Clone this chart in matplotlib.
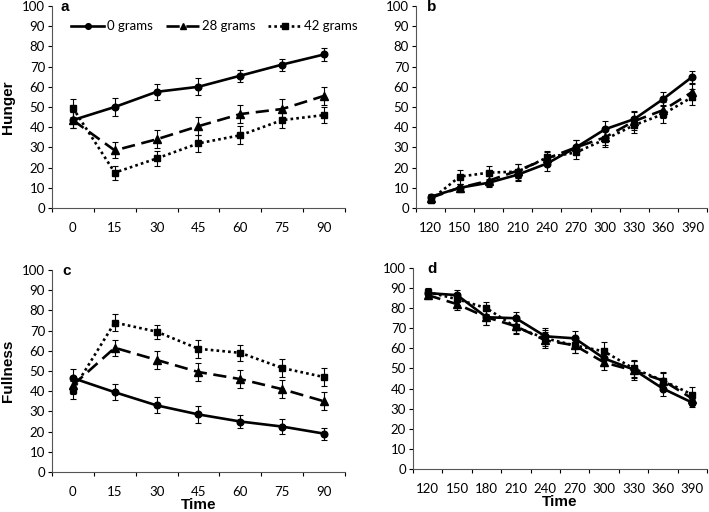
import matplotlib
matplotlib.use("Agg")
import matplotlib.pyplot as plt
import numpy as np
from matplotlib.ticker import FixedLocator

# ---- data ----
times_early = ["0", "15", "30", "45", "60", "75", "90"]
times_late = ["120", "150", "180", "210", "240", "270", "300", "330", "360", "390"]
series_names = ["0 grams", "28 grams", "42 grams"]

hunger_early_0 = [43.5, 50, 57.5, 60, 65.5, 71, 76]
hunger_early_28 = [43.5, 28.5, 34, 40.5, 46.5, 49, 55.5]
hunger_early_42 = [49.5, 17.5, 24.5, 32, 36, 43.5, 46]
hunger_early_err_0 = [4, 4.5, 4, 4.2, 3, 3, 3]
hunger_early_err_28 = [4, 4, 4.5, 4.3, 4.5, 5, 4.5]
hunger_early_err_42 = [4.5, 3.5, 3.5, 4.3, 4.5, 4, 4]

hunger_late_0 = [5.5, 10, 12.5, 16.5, 22, 30, 39, 44, 54, 65]
hunger_late_28 = [5, 10, 13.5, 18.5, 24.5, 30, 35, 43, 48.5, 57.5]
hunger_late_42 = [4, 15.5, 17.5, 18, 25, 27.5, 34, 41, 46.5, 55]
hunger_late_err_0 = [1.5, 2, 2, 3, 3.5, 3.5, 4, 4, 3.5, 3]
hunger_late_err_28 = [1.5, 2, 2.5, 3.5, 3, 3.5, 4, 4.5, 4, 4]
hunger_late_err_42 = [1.5, 3.5, 3.5, 4, 3, 3.5, 4, 4, 4.5, 4]

full_early_0 = [46.5, 39.5, 33, 28.5, 25, 22.5, 19]
full_early_28 = [43, 61.5, 55.5, 49.5, 46, 41, 35]
full_early_42 = [40.5, 74, 69.5, 61, 59, 51.5, 47]
full_early_err_0 = [4.5, 4, 4, 4, 3, 3.5, 3]
full_early_err_28 = [4.5, 4, 4.5, 4.5, 4.5, 4.5, 4.5]
full_early_err_42 = [4.5, 4, 3.5, 4.5, 4, 4.5, 4.5]

full_late_0 = [87.5, 86.5, 75.5, 75, 66, 65, 55, 49.5, 40, 33]
full_late_28 = [86.5, 82, 75.5, 71, 64, 61.5, 53, 49, 44, 35]
full_late_42 = [88, 84.5, 80, 70.5, 65, 61.5, 58.5, 50, 44, 37]
full_late_err_0 = [2, 2.5, 4, 3, 4, 3.5, 4, 4, 3.5, 2]
full_late_err_28 = [2, 3, 4, 3.5, 4, 4, 4, 4.5, 4, 3]
full_late_err_42 = [2, 3, 3, 3.5, 4, 4, 4.5, 4, 4.5, 4]

plt.rcParams['font.family'] = ['Lato', 'DejaVu Sans']

fig = plt.figure(figsize=(7.09, 5.12), dpi=100)

styles = [
    dict(linestyle='-', marker='o', markersize=4.8),
    dict(linestyle=(0, (5, 2.5)), marker='^', markersize=5.2),
    dict(linestyle=(0, (1, 1.2)), marker='s', markersize=5),
]

TICK_FS = 9.5

def draw(rect, cats, vals, errs, letter, letter_x, ylabel=None, xlabel=None, legend=False):
    ax = fig.add_axes(rect)
    x = np.arange(len(cats))
    for v, e, st in zip(vals, errs, styles):
        ax.errorbar(x, v, yerr=e, color='black', ecolor='black', elinewidth=0.8,
                    capsize=2.5, capthick=0.8, linewidth=1.9, zorder=3, **st)
    ax.set_xlim(-0.5, len(cats) - 0.5)
    ax.set_ylim(0, 100)
    ax.set_yticks(np.arange(0, 101, 10))
    ax.set_xticks(x)
    ax.set_xticklabels(cats)
    ax.xaxis.set_minor_locator(FixedLocator(np.arange(len(cats) + 1) - 0.5))
    ax.tick_params(axis='x', which='major', length=0, pad=10, labelsize=TICK_FS)
    ax.tick_params(axis='x', which='minor', length=3, width=0.8, direction='out')
    ax.tick_params(axis='y', length=3, width=0.8, pad=2, labelsize=TICK_FS)
    for s in ['top', 'right']:
        ax.spines[s].set_visible(False)
    for s in ['left', 'bottom']:
        ax.spines[s].set_linewidth(0.8)
        ax.spines[s].set_color('#555555')
    ax.text(letter_x, 0.995, letter, transform=ax.transAxes, fontsize=11,
            fontweight='bold', family='Liberation Sans', va='center', ha='center')
    if ylabel:
        ax.set_ylabel(ylabel, fontsize=11, fontweight='bold', family='Liberation Sans', labelpad=5)
    if xlabel:
        ax.set_xlabel(xlabel, fontsize=11, fontweight='bold', family='Liberation Sans', labelpad=0)
    if legend:
        leg_handles = []
        for st in styles:
            st2 = dict(st)
            st2['markersize'] = st['markersize'] * 0.85
            h, = ax.plot([], [], color='black', linewidth=1.9, **st2)
            leg_handles.append(h)
        ax.legend(leg_handles, series_names, ncol=3, frameon=False, loc='center',
                  bbox_to_anchor=(0.555, 0.9), fontsize=TICK_FS, handlelength=2.5,
                  handletextpad=0.2, columnspacing=1.0)
    return ax

draw([0.0733, 0.5938, 0.4133, 0.3945], times_early,
     [hunger_early_0, hunger_early_28, hunger_early_42],
     [hunger_early_err_0, hunger_early_err_28, hunger_early_err_42],
     'a', 0.045, ylabel='Hunger', legend=True)
draw([0.5867, 0.5938, 0.4105, 0.3945], times_late,
     [hunger_late_0, hunger_late_28, hunger_late_42],
     [hunger_late_err_0, hunger_late_err_28, hunger_late_err_42],
     'b', 0.055)
draw([0.0733, 0.0781, 0.4133, 0.3945], times_early,
     [full_early_0, full_early_28, full_early_42],
     [full_early_err_0, full_early_err_28, full_early_err_42],
     'c', 0.05, ylabel='Fullness', xlabel='Time')
draw([0.5825, 0.0840, 0.4147, 0.3926], times_late,
     [full_late_0, full_late_28, full_late_42],
     [full_late_err_0, full_late_err_28, full_late_err_42],
     'd', 0.065, xlabel='Time')

fig.savefig('out.png', dpi=100)
